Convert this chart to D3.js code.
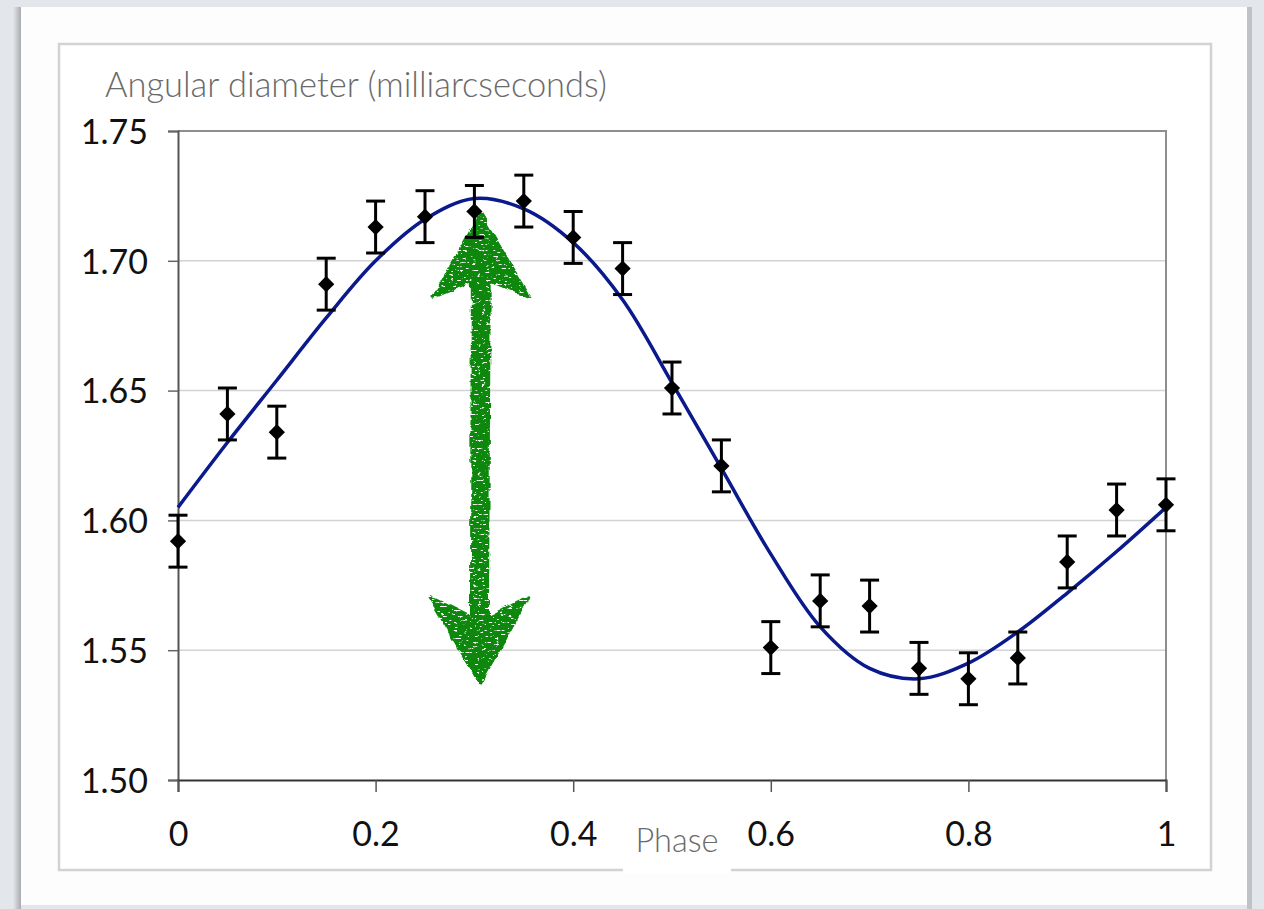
<!DOCTYPE html>
<html>
<head>
<meta charset="utf-8">
<script src="https://cdn.jsdelivr.net/npm/d3@7"></script>
<style>
  html, body { margin: 0; padding: 0; background: #e3e7eb; }
  svg { display: block; }
  .tick-label { font-family: Lato, "Open Sans", sans-serif; font-size: 34px; fill: #111; }
  .axis-title { font-family: Lato, "Open Sans", sans-serif; font-weight: 300; fill: #6a6a6a; }
</style>
</head>
<body>
<div id="chart"></div>
<script>
// measured angular diameter per pulsation phase (error bars are +/- 0.01)
const phases = [0, 0.05, 0.10, 0.15, 0.20, 0.25, 0.30, 0.35, 0.40, 0.45, 0.50,
                0.55, 0.60, 0.65, 0.70, 0.75, 0.80, 0.85, 0.90, 0.95, 1.00];
const diameters = [1.592, 1.641, 1.634, 1.691, 1.713, 1.717, 1.719, 1.723, 1.709, 1.697, 1.651,
                   1.621, 1.551, 1.569, 1.567, 1.543, 1.539, 1.547, 1.584, 1.604, 1.606];
const errors = [0.01, 0.01, 0.01, 0.01, 0.01, 0.01, 0.01, 0.01, 0.01, 0.01, 0.01,
                0.01, 0.01, 0.01, 0.01, 0.01, 0.01, 0.01, 0.01, 0.01, 0.01];

// fitted model curve
const fitPhases = [0, 0.05, 0.10, 0.15, 0.20, 0.25, 0.30, 0.35, 0.40, 0.45, 0.50,
                   0.55, 0.60, 0.65, 0.70, 0.75, 0.80, 0.85, 0.90, 0.95, 1.00];
const fitValues = [1.605, 1.630, 1.654, 1.678, 1.700, 1.716, 1.724, 1.720, 1.707, 1.685, 1.653,
                   1.620, 1.587, 1.559, 1.543, 1.539, 1.545, 1.557, 1.572, 1.588, 1.605];

const yTicks = [1.50, 1.55, 1.60, 1.65, 1.70, 1.75];
const xTicks = [0, 0.2, 0.4, 0.6, 0.8, 1];

// hand-drawn double arrow showing the amplitude
const arrowPhase = 0.306;
const arrowFrom = 1.537;
const arrowTo = 1.718;

const W = 1264, H = 909;
const plot = { left: 178, right: 1166, top: 131, bottom: 780 };

const svg = d3.select("#chart").append("svg")
  .attr("width", W)
  .attr("height", H);

const defs = svg.append("defs");

const crayon = defs.append("filter")
  .attr("id", "crayon")
  .attr("x", "-30%").attr("y", "-10%")
  .attr("width", "160%").attr("height", "120%");
crayon.append("feTurbulence")
  .attr("type", "fractalNoise").attr("baseFrequency", "0.09")
  .attr("numOctaves", 2).attr("seed", 3).attr("result", "warp");
crayon.append("feDisplacementMap")
  .attr("in", "SourceGraphic").attr("in2", "warp").attr("scale", 6)
  .attr("xChannelSelector", "R").attr("yChannelSelector", "G").attr("result", "rough");
crayon.append("feTurbulence")
  .attr("type", "fractalNoise").attr("baseFrequency", "0.22 0.5")
  .attr("numOctaves", 2).attr("seed", 11).attr("result", "grain");
crayon.append("feColorMatrix")
  .attr("in", "grain").attr("type", "matrix")
  .attr("values", "0 0 0 0 0  0 0 0 0 0  0 0 0 0 0  12 0 0 0 -3.3")
  .attr("result", "grainMask");
crayon.append("feComposite")
  .attr("in", "rough").attr("in2", "grainMask").attr("operator", "in");

const shadow = defs.append("linearGradient").attr("id", "leftShade");
shadow.append("stop").attr("offset", "0%").attr("stop-color", "#e3e7eb");
shadow.append("stop").attr("offset", "100%").attr("stop-color", "#a9abae");

// page background and slide panels
svg.append("rect")
  .attr("width", W).attr("height", H)
  .attr("fill", "#e3e7eb");

svg.append("rect")
  .attr("x", 13).attr("y", 7).attr("width", 8).attr("height", H - 7)
  .attr("fill", "url(#leftShade)");

svg.append("rect")
  .attr("x", 21).attr("y", 7).attr("width", 1226).attr("height", 898)
  .attr("fill", "#fdfdfd");

svg.append("rect")
  .attr("x", 1247).attr("y", 7).attr("width", 5).attr("height", H - 7)
  .attr("fill", "#bfc2c6");

svg.append("rect")
  .attr("x", 59).attr("y", 44).attr("width", 1152).attr("height", 826)
  .attr("fill", "#fff")
  .attr("stroke", "#d2d2d2")
  .attr("stroke-width", 2.5);

const x = d3.scaleLinear()
  .domain([0, 1])
  .range([plot.left, plot.right]);

const y = d3.scaleLinear()
  .domain([1.5, 1.75])
  .range([plot.bottom, plot.top]);

// gridlines
svg.append("g")
  .selectAll("line")
  .data(yTicks.filter(d => d > 1.5 && d < 1.75))
  .enter()
  .append("line")
  .attr("x1", plot.left).attr("x2", plot.right)
  .attr("y1", d => y(d)).attr("y2", d => y(d))
  .attr("stroke", "#d3d3d3")
  .attr("stroke-width", 1.5);

// plot area border (top and right)
svg.append("path")
  .attr("d", `M${x(0)},${y(1.75)}H${x(1)}V${y(1.5)}`)
  .attr("fill", "none")
  .attr("stroke", "#8e8e8e")
  .attr("stroke-width", 2);

// y axis
const yAxis = svg.append("g")
  .attr("transform", `translate(${plot.left},0)`)
  .call(d3.axisLeft(y).tickValues(yTicks).tickFormat(d3.format(".2f")).tickSize(10).tickPadding(20));
yAxis.select(".domain").attr("stroke", "#555").attr("stroke-width", 2);
yAxis.selectAll(".tick line").attr("stroke", "#666").attr("stroke-width", 1.5);
yAxis.selectAll(".tick text")
  .attr("class", "tick-label")
  .attr("font-family", null).attr("font-size", null)
  .attr("dy", "0.36em");

// x axis
const xAxis = svg.append("g")
  .attr("transform", `translate(0,${plot.bottom})`)
  .call(d3.axisBottom(x).tickValues(xTicks).tickFormat(d3.format("")).tickSize(12).tickPadding(30));
xAxis.select(".domain").attr("stroke", "#333").attr("stroke-width", 2);
xAxis.selectAll(".tick line").attr("stroke", "#555").attr("stroke-width", 1.5);
xAxis.selectAll(".tick text")
  .attr("class", "tick-label")
  .attr("font-family", null).attr("font-size", null)
  .attr("dy", "0.72em");

// fitted curve
const fit = fitPhases.map((p, i) => ({ phase: p, value: fitValues[i] }));
const line = d3.line()
  .x(d => x(d.phase))
  .y(d => y(d.value))
  .curve(d3.curveCatmullRom.alpha(0.5));

svg.append("path")
  .datum(fit)
  .attr("fill", "none")
  .attr("stroke", "#0a1a8c")
  .attr("stroke-width", 3.5)
  .attr("d", line);

// green double arrow
const headLen = 0.032;
const headHalf = 0.05;
const shaftHalf = 0.009;
const arrowPts = [
  [arrowPhase, arrowTo],
  [arrowPhase + headHalf, arrowTo - headLen],
  [arrowPhase + shaftHalf, arrowTo - headLen * 0.8],
  [arrowPhase + shaftHalf * 0.8, arrowFrom + headLen * 0.8],
  [arrowPhase + headHalf * 0.96, arrowFrom + headLen * 1.05],
  [arrowPhase, arrowFrom],
  [arrowPhase - headHalf * 1.04, arrowFrom + headLen * 1.05],
  [arrowPhase - shaftHalf, arrowFrom + headLen * 0.8],
  [arrowPhase - shaftHalf * 0.9, arrowTo - headLen * 0.8],
  [arrowPhase - headHalf * 0.94, arrowTo - headLen]
];

svg.append("path")
  .attr("d", "M" + arrowPts.map(p => `${x(p[0])},${y(p[1])}`).join("L") + "Z")
  .attr("fill", "#088808")
  .attr("stroke", "#088808")
  .attr("stroke-width", 3)
  .attr("stroke-linejoin", "round")
  .attr("filter", "url(#crayon)");

// error bars and markers
const points = phases.map((p, i) => ({ phase: p, value: diameters[i], err: errors[i] }));
const bars = svg.append("g")
  .selectAll("g")
  .data(points)
  .enter()
  .append("g")
  .attr("stroke", "#000")
  .attr("stroke-width", 3);

bars.append("line")
  .attr("x1", d => x(d.phase)).attr("x2", d => x(d.phase))
  .attr("y1", d => y(d.value - d.err)).attr("y2", d => y(d.value + d.err));
bars.append("line")
  .attr("x1", d => x(d.phase) - 9.5).attr("x2", d => x(d.phase) + 9.5)
  .attr("y1", d => y(d.value + d.err)).attr("y2", d => y(d.value + d.err));
bars.append("line")
  .attr("x1", d => x(d.phase) - 9.5).attr("x2", d => x(d.phase) + 9.5)
  .attr("y1", d => y(d.value - d.err)).attr("y2", d => y(d.value - d.err));

svg.append("g")
  .selectAll("path")
  .data(points)
  .enter()
  .append("path")
  .attr("d", d3.symbol(d3.symbolSquare, 132))
  .attr("transform", d => `translate(${x(d.phase)},${y(d.value)}) rotate(45)`)
  .attr("fill", "#000");

// axis titles
const yTitle = svg.append("text")
  .attr("class", "axis-title")
  .attr("x", 105)
  .attr("y", 97)
  .style("font-size", "28px")
  .text("Angular diameter (milliarcseconds)");
const tw = yTitle.node().getComputedTextLength();
yTitle.style("font-size", (28 * 502 / tw) + "px");

svg.append("rect")
  .attr("x", 623).attr("y", 812)
  .attr("width", 108).attr("height", 62)
  .attr("fill", "#fff");

const xTitle = svg.append("text")
  .attr("class", "axis-title")
  .attr("x", 677)
  .attr("y", 852)
  .attr("text-anchor", "middle")
  .style("font-size", "30px")
  .text("Phase");
const pw = xTitle.node().getComputedTextLength();
xTitle.style("font-size", (30 * 83 / pw) + "px");
</script>
</body>
</html>
